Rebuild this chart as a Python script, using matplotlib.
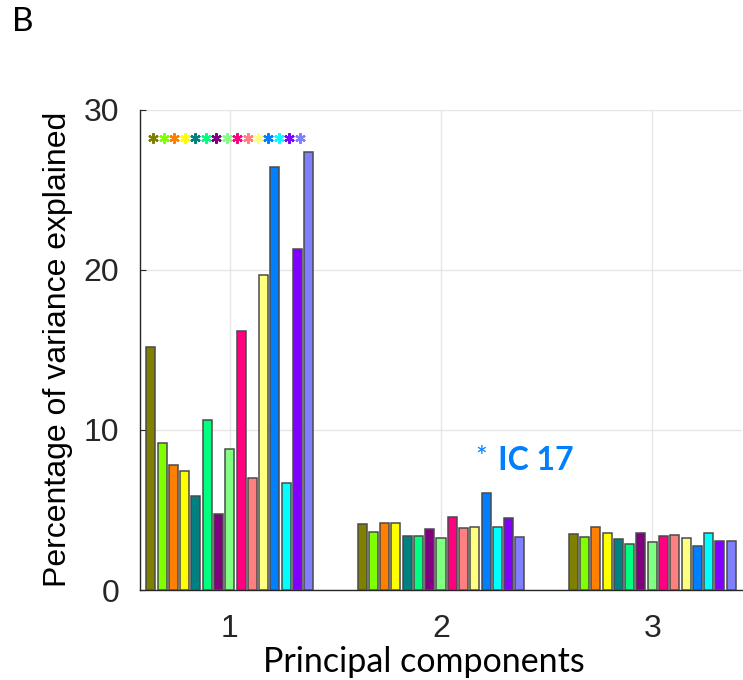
"""
Variance explained per principal component, one bar per IC
"""

import numpy as np
import matplotlib
matplotlib.use('Agg')
import matplotlib.pyplot as plt

# data
pcs = [1, 2, 3]
ic_colors = ['#808000', '#80FF00', '#FF8000', '#FFFF00', '#008080',
             '#00FF80', '#800080', '#80FF80', '#FF0080', '#FF8080',
             '#FFFF80', '#0080FF', '#00FFFF', '#8000FF', '#8080FF']
pc1 = [15.15, 9.15, 7.8, 7.45, 5.9, 10.6, 4.75, 8.8, 16.2, 7.0,
       19.65, 26.4, 6.7, 21.3, 27.35]
pc2 = [4.1, 3.6, 4.2, 4.18, 3.4, 3.38, 3.8, 3.25, 4.57, 3.88,
       3.92, 6.03, 3.95, 4.5, 3.28]
pc3 = [3.48, 3.32, 3.92, 3.55, 3.18, 2.9, 3.58, 3.0, 3.36, 3.45,
       3.26, 2.76, 3.53, 3.05, 3.08]
variance = np.array([pc1, pc2, pc3])   # rows = PCs, cols = ICs
star_y = 28.2
star_x = np.linspace(0.638, 1.332, len(ic_colors))
ic_label = 'IC 17'
ic_label_pos = (2.27, 8.1)

n_ic = len(ic_colors)
slot = 0.8 / n_ic
offsets = (np.arange(n_ic) - (n_ic - 1) / 2) * slot

fig = plt.figure(figsize=(7.43, 6.8), dpi=100)
ax = fig.add_axes([140/743, 1 - 590/680, 602/743, 480.5/680])

for i in range(n_ic):
    ax.bar(np.array(pcs) + offsets[i], variance[:, i], width=slot*0.8,
           color=ic_colors[i], edgecolor='#4a4a4a', linewidth=1.1, zorder=3)
    ax.plot(star_x[i], star_y, marker=(6, 2, 0), markersize=7.5, mew=1.6,
            color=ic_colors[i], linestyle='none', zorder=4)

# annotate IC 17 (PC 2)
ax.text(ic_label_pos[0] - 0.08, ic_label_pos[1] + 0.1, '*', color='#0080FF',
        fontsize=20, ha='center', va='center', family='Lato')
ax.text(ic_label_pos[0], ic_label_pos[1], ic_label, color='#0080FF',
        fontsize=23, fontweight='bold', ha='left', va='center', family='Lato')

ax.set_xlim(0.575, 3.425)
ax.set_ylim(0, 30)
ax.set_xticks(pcs)
ax.set_yticks([0, 10, 20, 30])
ax.grid(True, color='#e6e6e6', linewidth=1, zorder=0)
ax.set_axisbelow(True)
for s in ['top', 'right']:
    ax.spines[s].set_visible(False)
for s in ['left', 'bottom']:
    ax.spines[s].set_color('#262626')
    ax.spines[s].set_linewidth(1)
ax.tick_params(direction='in', length=4, color='#262626', labelcolor='#262626',
               labelsize=23)
ax.tick_params(axis='x', pad=17)
ax.tick_params(axis='y', pad=15)
for lab in ax.get_xticklabels() + ax.get_yticklabels():
    lab.set_family('Liberation Sans')

ax.set_ylabel('Percentage of variance explained', fontsize=23,
              family='Liberation Sans', color='black')
ax.yaxis.set_label_coords(-0.136, 0.5)
ax.set_xlabel('Principal components', fontsize=24.5, family='Lato', color='black')
ax.xaxis.set_label_coords(0.471, -0.15)
ax.xaxis.label.set_va('center')
ax.yaxis.label.set_va('center')

fig.text(12/743, 1 - 22/680, 'B', fontsize=24, family='Lato', va='center', ha='left')

fig.savefig('out.png', dpi=100)
